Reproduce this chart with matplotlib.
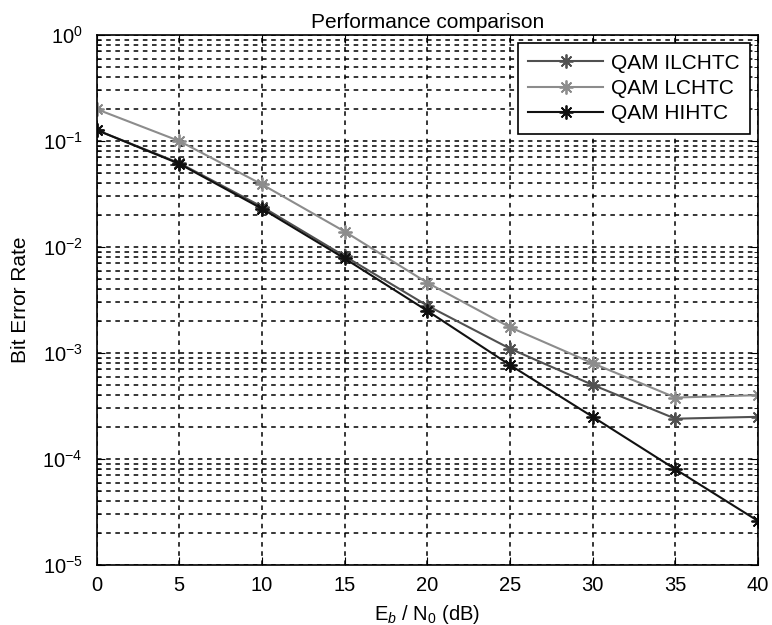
import matplotlib
matplotlib.use("Agg")
import matplotlib.pyplot as plt
from matplotlib.ticker import LogLocator, FixedLocator, NullFormatter

plt.rcParams['font.family'] = ['Liberation Sans', 'DejaVu Sans']
plt.rcParams['mathtext.fontset'] = 'custom'
plt.rcParams['mathtext.rm'] = 'Liberation Sans'
plt.rcParams['mathtext.it'] = 'Liberation Sans:italic'

snr = [0, 5, 10, 15, 20, 25, 30, 35, 40]
ber_ilchtc = [0.127, 0.062, 0.024, 0.0082, 0.0028, 0.0011, 0.0005, 0.00024, 0.00025]
ber_lchtc = [0.20, 0.10, 0.039, 0.014, 0.0046, 0.00175, 0.0008, 0.00038, 0.0004]
ber_hihtc = [0.127, 0.061, 0.023, 0.0078, 0.0025, 0.00077, 0.00025, 0.00008, 0.000026]
labels = ['QAM ILCHTC', 'QAM LCHTC', 'QAM HIHTC']

fig = plt.figure(figsize=(7.72, 6.25), dpi=100)
ax = fig.add_axes([0.125, 0.096, 0.857, 0.848])

mk = (8, 2, 0)
ax.plot(snr, ber_ilchtc, '-', marker=mk, color='#505050', lw=1.5, ms=10, mew=1.3, label=labels[0])
ax.plot(snr, ber_lchtc, '-', marker=mk, color='#8c8c8c', lw=1.5, ms=10, mew=1.3, label=labels[1])
ax.plot(snr, ber_hihtc, '-', marker=mk, color='#111111', lw=1.5, ms=10, mew=1.3, label=labels[2])

ax.set_yscale('log')
ax.set_xlim(0, 40)
ax.set_ylim(1e-5, 1)
ax.xaxis.set_major_locator(FixedLocator(snr))
ax.yaxis.set_major_locator(LogLocator(base=10, numticks=10))
ax.yaxis.set_minor_locator(LogLocator(base=10, subs=range(2, 10), numticks=20))
ax.yaxis.set_minor_formatter(NullFormatter())

ax.grid(True, which='major', axis='both', color='black', linestyle=(0, (3, 3)), lw=1.1)
ax.grid(True, which='minor', axis='y', color='black', linestyle=(0, (3, 3)), lw=1.1)

ax.tick_params(which='both', direction='in', top=True, right=True, labelsize=14.5)
ax.tick_params(axis='x', which='major', pad=8)
ax.tick_params(axis='y', which='major', pad=10)
ax.tick_params(which='major', length=6)
ax.tick_params(which='minor', length=3)
for s in ax.spines.values():
    s.set_linewidth(1.2)

ax.set_title('Performance comparison', fontsize=15, pad=5)
ax.set_xlabel(r'E$_{\mathit{b}}$ / N$_{0}$ (dB)', fontsize=14.5, labelpad=6)
ax.set_ylabel('Bit Error Rate', fontsize=15, labelpad=9)

leg = ax.legend(loc='upper right', fontsize=15, fancybox=False, framealpha=1,
                edgecolor='black', borderaxespad=0.4, handlelength=3.6,
                handletextpad=0.35, labelspacing=0.3, borderpad=0.5)
leg.get_frame().set_linewidth(1.2)

fig.savefig('out.png', dpi=100)
